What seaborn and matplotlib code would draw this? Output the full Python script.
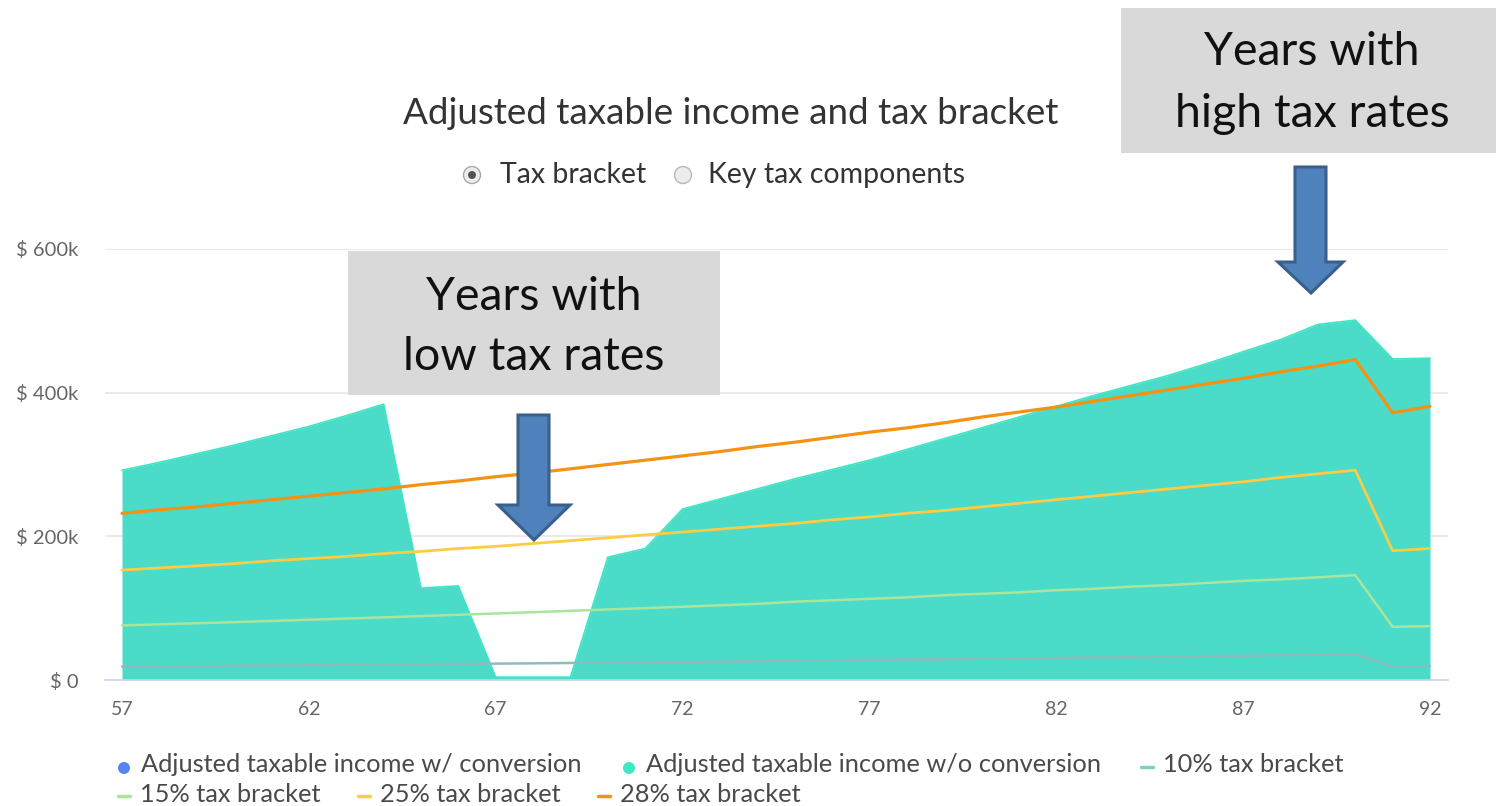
import matplotlib
matplotlib.use("Agg")
import matplotlib.pyplot as plt
import seaborn as sns
import pandas as pd
from matplotlib.patches import Polygon, Rectangle, Circle
from matplotlib.lines import Line2D

# ---------------- data (values in $ thousands) ----------------
ages = [57, 58, 59, 60, 61, 62, 63, 64, 65, 66, 67, 68, 69, 70, 71, 72, 73, 74,
        75, 76, 77, 78, 79, 80, 81, 82, 83, 84, 85, 86, 87, 88, 89, 90, 91, 92]
income_wo_conversion = [292, 303, 315, 327, 340, 353, 368, 384, 128, 131, 4, 4,
                        4, 171, 183, 238, 252, 266, 280, 293, 306, 321, 336, 351,
                        366, 381, 396, 410, 424, 440, 457, 474, 495, 501, 447, 448]
bracket_10 = [18.7, 19.1, 19.4, 19.8, 20.2, 20.6, 21.0, 21.5, 21.9, 22.3, 22.8, 23.2,
              23.7, 24.2, 24.6, 25.1, 25.6, 26.2, 26.7, 27.2, 27.8, 28.3, 28.9, 29.5,
              30.1, 30.7, 31.3, 31.9, 32.5, 33.2, 33.8, 34.5, 35.2, 35.9, 18.5, 18.8]
bracket_15 = [76, 77.5, 79, 80.6, 82.2, 83.9, 85.5, 87.2, 89, 90.8, 92.6, 94.4,
              96.3, 98.2, 100, 102, 104, 106, 109, 111, 113, 115, 118, 120,
              122, 125, 127, 130, 132, 135, 138, 140, 143, 146, 74, 75]
bracket_25 = [153, 156, 159, 162, 166, 169, 172, 176, 179, 183, 186, 190,
              194, 198, 202, 206, 210, 214, 218, 223, 227, 232, 236, 241,
              246, 251, 256, 261, 266, 271, 276, 282, 287, 292, 180, 183]
bracket_28 = [232, 237, 241, 246, 251, 256, 261, 266, 272, 277, 283, 288,
              294, 300, 306, 312, 318, 325, 331, 338, 345, 351, 358, 366,
              373, 380, 388, 396, 404, 412, 420, 429, 437, 446, 372, 381]

x_ticks = [57, 62, 67, 72, 77, 82, 87, 92]
y_ticks = [0, 200, 400, 600]
y_tick_labels = ["$ 0", "$ 200k", "$ 400k", "$ 600k"]

legend_labels = ["Adjusted taxable income w/ conversion",
                 "Adjusted taxable income w/o conversion",
                 "10% tax bracket", "15% tax bracket",
                 "25% tax bracket", "28% tax bracket"]

# ---------------- style ----------------
sns.set_theme(style="white")
plt.rcParams['font.family'] = ['Lato', 'DejaVu Sans']

C_TEAL_FILL = "#4adbc9"
C_TEAL_LINE = "#3fe6c3"
C_BLUE = "#5585f0"
C_10 = "#8cbcbc"
C_15 = "#a9e59c"
C_25 = "#fdcc45"
C_28 = "#f39213"

W, H = 1496, 806
fig = plt.figure(figsize=(W / 100, H / 100), dpi=100)
fig.patch.set_facecolor("white")

ax_l, ax_r, ax_t, ax_b = 105, 1448, 249, 680
ax = fig.add_axes([ax_l / W, (H - ax_b) / H, (ax_r - ax_l) / W, (ax_b - ax_t) / H])

df = pd.DataFrame({"age": ages, "income": income_wo_conversion,
                   "b10": bracket_10, "b15": bracket_15,
                   "b25": bracket_25, "b28": bracket_28})

ax.fill_between(df["age"], 0, df["income"], color=C_TEAL_FILL, lw=0, zorder=1)
sns.lineplot(data=df, x="age", y="income", color=C_TEAL_LINE, lw=1.2, ax=ax, zorder=2)
for col, colr, lw in [("b10", C_10, 1.8), ("b15", C_15, 1.8),
                      ("b25", C_25, 2.0), ("b28", C_28, 2.3)]:
    sns.lineplot(data=df, x="age", y=col, color=colr, lw=lw, ax=ax, zorder=3)

ax.set_xlim(57 - 17 / 37.37, 92 + 18 / 37.37)
ax.set_ylim(0, 600)
ax.set_xlabel("")
ax.set_ylabel("")
ax.set_xticks(x_ticks)
ax.set_xticklabels([str(t) for t in x_ticks])
ax.set_yticks(y_ticks)
ax.set_yticklabels(y_tick_labels)
ax.tick_params(axis="x", length=10, width=1, color="#ccd6eb", pad=5,
               labelsize=14, labelcolor="#666666", direction="out")
ax.tick_params(axis="y", length=0, pad=19, labelsize=14.5, labelcolor="#666666")
for lab in ax.get_yticklabels():
    lab.set_horizontalalignment("right")
ax.yaxis.grid(True, color="#e6e6e6", lw=1.2, zorder=0)
ax.xaxis.grid(False)
for s in ["top", "right", "left"]:
    ax.spines[s].set_visible(False)
ax.spines["bottom"].set_color("#ccd6eb")
ax.spines["bottom"].set_linewidth(1.2)
ax.spines["bottom"].set_zorder(4)
if ax.get_legend() is not None:
    ax.get_legend().remove()
ax.set_facecolor("none")

# ---------------- overlay (text, annotations, legend) ----------------
ov = fig.add_axes([0, 0, 1, 1], zorder=10)
ov.set_xlim(0, W)
ov.set_ylim(H, 0)
ov.axis("off")
ov.patch.set_alpha(0)

# title and radio buttons
ov.text(731, 113, "Adjusted taxable income and tax bracket", ha="center", va="center",
        fontsize=26.5, color="#333333")
ov.add_patch(Circle((472, 175), 8.5, fc="#ececec", ec="#a8a8a8", lw=1))
ov.add_patch(Circle((472, 175), 4, fc="#555555", ec="none"))
ov.text(500, 175, "Tax bracket", ha="left", va="center", fontsize=20.5, color="#333333")
ov.add_patch(Circle((683, 175), 8.5, fc="#ececec", ec="#b8b8b8", lw=1))
ov.text(708, 175, "Key tax components", ha="left", va="center", fontsize=20.5, color="#333333")

# annotation boxes
ov.add_patch(Rectangle((348, 251), 372, 144, fc="#d9d9d9", ec="none"))
ov.text(534, 310, "Years with", ha="center", va="baseline", fontsize=33.5, color="#111111")
ov.text(534, 370, "low tax rates", ha="center", va="baseline", fontsize=33.5, color="#111111")
ov.add_patch(Rectangle((1121, 8), 375, 145, fc="#d9d9d9", ec="none"))
ov.text(1312, 65, "Years with", ha="center", va="baseline", fontsize=33.5, color="#111111")
ov.text(1312, 127, "high tax rates", ha="center", va="baseline", fontsize=33.5, color="#111111")

# arrows
arrow1 = [(518, 415), (549, 415), (549, 505), (570, 505), (534, 540), (498, 505), (518, 505)]
arrow2 = [(1295, 167), (1326, 167), (1326, 262), (1343, 262), (1311, 293), (1278, 262), (1295, 262)]
for pts in (arrow1, arrow2):
    ov.add_patch(Polygon(pts, closed=True, fc="#4f81bd", ec="#3a5f8b", lw=2.2, joinstyle="miter"))

# legend
leg_color = "#4a4a4a"
row1, row2 = 765, 794
ov.add_patch(Circle((124, row1 + 3), 6, fc=C_BLUE, ec="none"))
ov.text(141, row1, legend_labels[0], ha="left", va="center", fontsize=18.3, color=leg_color)
ov.add_patch(Circle((629, row1 + 3), 6, fc="#3ee8c0", ec="none"))
ov.text(646, row1, legend_labels[1], ha="left", va="center", fontsize=18.3, color=leg_color)
for (x0, y0, colr, lab) in [(1141, row1, "#7fcfc4", legend_labels[2]),
                            (118, row2, C_15, legend_labels[3]),
                            (358, row2, C_25, legend_labels[4]),
                            (598, row2, C_28, legend_labels[5])]:
    ov.add_line(Line2D([x0, x0 + 12], [y0 + 2, y0 + 2], color=colr, lw=2.5))
    ov.text(x0 + 22, y0, lab, ha="left", va="center", fontsize=18.3, color=leg_color)

fig.savefig("out.png", dpi=100)
